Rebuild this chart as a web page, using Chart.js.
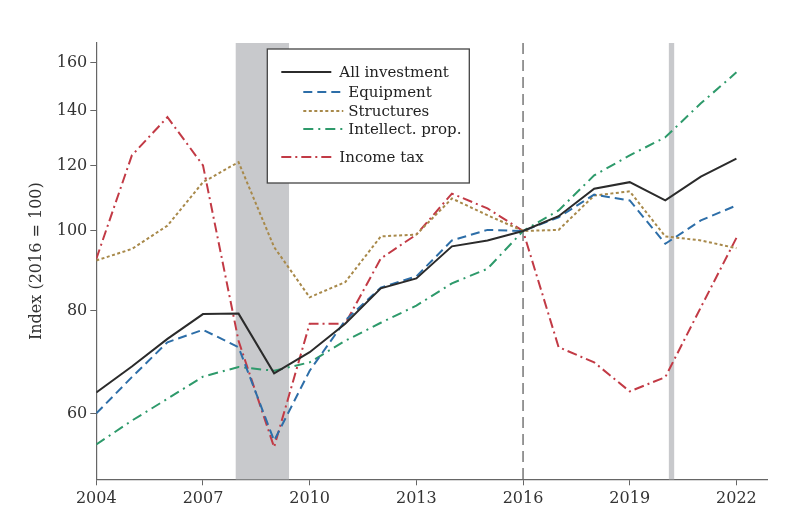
<!DOCTYPE html>
<html>
<head>
<meta charset="utf-8">
<script src="https://cdn.jsdelivr.net/npm/chart.js@4.4.0/dist/chart.umd.min.js"></script>
<style>
  html, body { margin: 0; padding: 0; background: #fff; }
  #wrap { width: 800px; height: 530px; }
</style>
</head>
<body>
<div id="wrap"><canvas id="indexChart" width="800" height="530"></canvas></div>
<script>
// values, index 2016 = 100
const years = [2004, 2005, 2006, 2007, 2008, 2009, 2010, 2011, 2012, 2013, 2014, 2015, 2016, 2017, 2018, 2019, 2020, 2021, 2022];
const allInvestment = [63.7, 68.5, 74.0, 79.3, 79.4, 67.2, 71.3, 77.2, 85.2, 87.6, 95.8, 97.4, 100, 104.2, 112.5, 114.6, 108.9, 116.4, 122.4];
const equipment     = [60.1, 66.5, 73.3, 75.9, 72.3, 55.7, 67.7, 77.9, 85.4, 88.1, 97.4, 100.3, 100, 103.9, 110.7, 108.9, 96.5, 103.0, 107.4];
const structures    = [92.1, 95.1, 101.5, 114.6, 121.2, 95.6, 83.1, 86.7, 98.5, 99.0, 109.5, 104.5, 100, 100.3, 110.4, 111.7, 98.5, 97.4, 95.3];
const intellectProp = [55.1, 58.9, 62.6, 66.6, 68.4, 67.7, 69.3, 73.6, 77.4, 81.2, 86.4, 90.0, 100, 105.9, 116.8, 123.5, 129.9, 142.8, 155.7];
const incomeTax     = [92.5, 123.5, 137.4, 120.1, 73.6, 54.7, 77.2, 77.2, 92.6, 99.0, 111.0, 106.5, 100, 72.3, 69.3, 63.9, 66.5, 80.8, 98.1];

const xTicks = [2004, 2007, 2010, 2013, 2016, 2019, 2022];
const yTicks = [60, 80, 100, 120, 140, 160];
const recessions = [[2007.92, 2009.42], [2020.1, 2020.25]];
const baseYear = 2016;

const serif = "'DejaVu Serif', 'Liberation Serif', serif";

const series = [
    { label: 'All investment',    data: allInvestment, color: '#2b2b2b', dash: [] },
    { label: 'Equipment',         data: equipment,     color: '#2d6ea8', dash: [9, 5] },
    { label: 'Structures',        data: structures,    color: '#a8894a', dash: [3, 2.5] },
    { label: 'Intellect. prop.',  data: intellectProp, color: '#2e9a6b', dash: [10, 5, 2, 5] },
    { label: 'Income tax',        data: incomeTax,     color: '#c23a45', dash: [10, 4, 2, 4] }
];

// legend layout, relative to chart area top-left
const legendBox = { x: 171, y: 6, w: 202, h: 134 };
const legendRows = [
    { x0: 185, x1: 235, y: 29,  tx: 243 },
    { x0: 207, x1: 247, y: 49,  tx: 252 },
    { x0: 207, x1: 247, y: 68,  tx: 252 },
    { x0: 207, x1: 247, y: 86,  tx: 252 },
    { x0: 185, x1: 238, y: 114, tx: 243 }
];

const backdrop = {
    id: 'backdrop',
    beforeDatasetsDraw(chart) {
        const { ctx, chartArea, scales } = chart;
        ctx.save();
        ctx.fillStyle = '#c8c9cc';
        recessions.forEach(([a, b]) => {
            const x0 = scales.x.getPixelForValue(a);
            const x1 = scales.x.getPixelForValue(b);
            ctx.fillRect(x0, chartArea.top, x1 - x0, chartArea.bottom - chartArea.top);
        });
        const xb = scales.x.getPixelForValue(baseYear);
        ctx.strokeStyle = '#555';
        ctx.lineWidth = 1.2;
        ctx.setLineDash([11, 6]);
        ctx.beginPath();
        ctx.moveTo(xb, chartArea.top);
        ctx.lineTo(xb, chartArea.bottom);
        ctx.stroke();
        ctx.restore();
    }
};

const boxLegend = {
    id: 'boxLegend',
    afterDatasetsDraw(chart) {
        const { ctx, chartArea } = chart;
        const L = chartArea.left, T = chartArea.top;
        ctx.save();
        ctx.fillStyle = '#fff';
        ctx.fillRect(L + legendBox.x, T + legendBox.y, legendBox.w, legendBox.h);
        ctx.strokeStyle = '#444';
        ctx.lineWidth = 1.3;
        ctx.strokeRect(L + legendBox.x, T + legendBox.y, legendBox.w, legendBox.h);
        ctx.font = "15px " + serif;
        ctx.textBaseline = 'middle';
        series.forEach((s, i) => {
            const r = legendRows[i];
            ctx.strokeStyle = s.color;
            ctx.lineWidth = 2.2;
            ctx.setLineDash(s.dash);
            ctx.beginPath();
            ctx.moveTo(L + r.x0, T + r.y);
            ctx.lineTo(L + r.x1, T + r.y);
            ctx.stroke();
            ctx.fillStyle = '#222';
            ctx.fillText(s.label, L + r.tx, T + r.y + 1);
        });
        ctx.restore();
    }
};

const ctx = document.getElementById('indexChart').getContext('2d');
new Chart(ctx, {
    type: 'line',
    data: {
        datasets: series.map(s => ({
            label: s.label,
            data: years.map((yr, i) => ({ x: yr, y: s.data[i] })),
            borderColor: s.color,
            borderDash: s.dash,
            borderWidth: 2,
            pointRadius: 0,
            tension: 0,
            fill: false
        }))
    },
    options: {
        responsive: false,
        animation: false,
        layout: { padding: { top: 43, right: 33, left: 0, bottom: 0 } },
        plugins: {
            legend: { display: false },
            tooltip: { enabled: false }
        },
        scales: {
            x: {
                type: 'linear',
                min: 2004,
                max: 2022.86,
                grid: { drawOnChartArea: false, drawTicks: true, tickLength: 6, color: '#666' },
                border: { display: true, color: '#666', width: 1.2 },
                afterBuildTicks: scale => { scale.ticks = xTicks.map(v => ({ value: v })); },
                ticks: {
                    color: '#333',
                    padding: 4,
                    maxRotation: 0,
                    font: { family: serif, size: 16 },
                    callback: v => String(v)
                },
                afterFit: scale => { scale.height = 50.7; }
            },
            y: {
                type: 'logarithmic',
                min: 50,
                max: 169,
                grid: { drawOnChartArea: false, drawTicks: true, tickLength: 6, color: '#666' },
                border: { display: true, color: '#666', width: 1.2 },
                afterBuildTicks: scale => { scale.ticks = yTicks.map(v => ({ value: v })); },
                ticks: {
                    color: '#333',
                    padding: 3,
                    font: { family: serif, size: 16 },
                    callback: v => String(v)
                },
                title: {
                    display: true,
                    text: 'Index (2016 = 100)',
                    color: '#333',
                    font: { family: serif, size: 16 },
                    padding: { top: 27, bottom: 0 }
                },
                afterFit: scale => { scale.width = 96.3; }
            }
        }
    },
    plugins: [backdrop, boxLegend]
});
</script>
</body>
</html>
